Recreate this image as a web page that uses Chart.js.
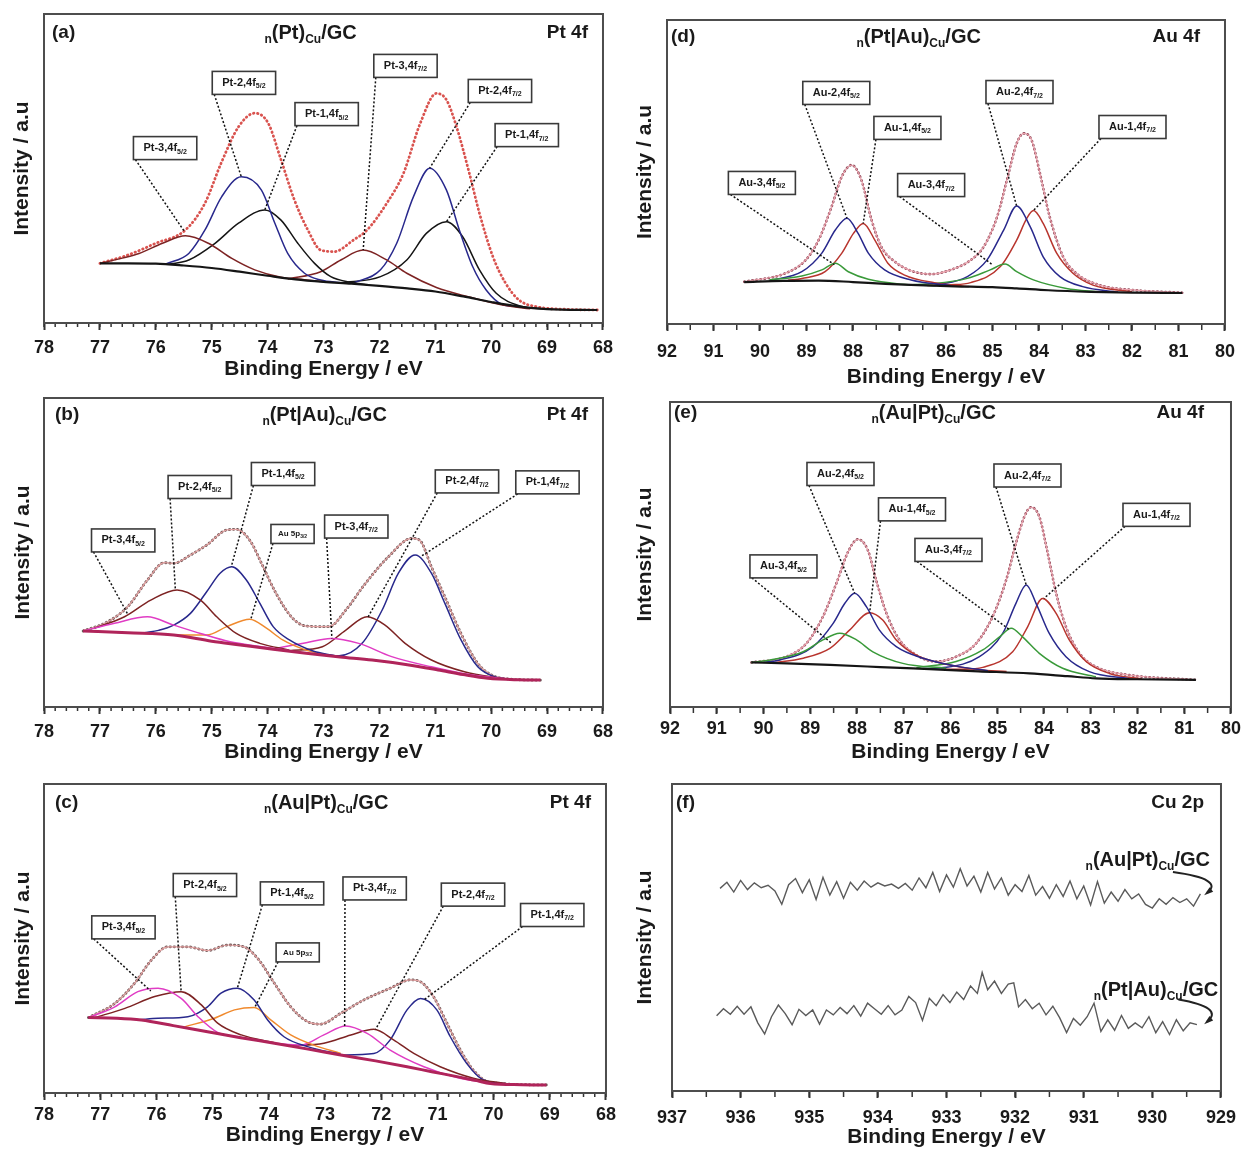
<!DOCTYPE html>
<html>
<head>
<meta charset="utf-8">
<script src="https://cdn.jsdelivr.net/npm/chart.js@4.4.1/dist/chart.umd.min.js"></script>
<style>
  body { margin: 0; background: #fff; }
  #wrap { position: relative; width: 1246px; height: 1155px; overflow: hidden; }
  canvas { position: absolute; }
</style>
</head>
<body>
<div id="wrap">
  <canvas id="pa" width="620" height="385" style="left:0;top:0"></canvas>
  <canvas id="pd" width="620" height="390" style="left:625px;top:0"></canvas>
  <canvas id="pb" width="620" height="385" style="left:0;top:385px"></canvas>
  <canvas id="pe" width="620" height="385" style="left:625px;top:385px"></canvas>
  <canvas id="pc" width="620" height="385" style="left:0;top:770px"></canvas>
  <canvas id="pf" width="620" height="385" style="left:625px;top:770px"></canvas>
</div>
<script>
// ---- data: [binding energy (eV), intensity (a.u.)] ----

// (a) n(Pt)Cu/GC, Pt 4f
const aBackground = [[77.0,19.3],[76.5,19.3],[76.0,19.2],[75.5,18.6],[75.0,17.8],[74.5,16.6],[74.0,15.3],[73.5,14.1],[73.0,13.3],[72.5,12.7],[72.0,12.0],[71.5,11.2],[71.0,10.2],[70.5,8.6],[70.0,6.8],[69.5,5.3],[69.0,4.5],[68.1,4.2]];
const aEnvelope = [[77.0,19.3],[76.5,22.0],[76.0,25.8],[75.47,30.1],[75.12,38.8],[74.83,51.8],[74.52,63.5],[74.23,67.9],[73.99,64.7],[73.76,52.8],[73.52,39.8],[73.28,30.1],[73.05,23.6],[72.81,23.1],[72.46,26.9],[72.22,30.1],[71.87,38.7],[71.57,48.4],[71.27,64.6],[70.98,74.3],[70.8,72.2],[70.62,63.5],[70.39,48.4],[70.21,35.5],[69.97,21.5],[69.74,12.8],[69.5,7.4],[69.2,5.3],[68.6,4.4],[68.1,4.2]];
const aPt3_52 = [[77.0,19.3],[76.6,21.0],[76.3,22.5],[75.88,25.8],[75.47,28.2],[75.06,25.8],[74.64,20.9],[74.23,17.2],[73.76,14.8],[73.34,14.0],[72.9,13.2]];
const aPt2_52 = [[75.82,19.1],[75.41,22.5],[75.12,30.1],[74.82,40.9],[74.47,47.3],[74.11,43.0],[73.87,32.3],[73.64,22.5],[73.34,16.1],[73.05,13.9],[72.69,13.0]];
const aPt1_52 = [[75.77,19.0],[75.41,20.4],[74.94,25.8],[74.52,32.3],[74.05,36.6],[73.76,33.3],[73.46,25.8],[73.16,19.3],[72.87,15.0],[72.52,13.2],[72.2,12.4]];
const aPt3_72 = [[73.64,14.2],[73.05,16.6],[72.69,20.4],[72.29,23.6],[71.87,20.4],[71.51,16.1],[70.98,11.5],[70.39,8.4],[69.8,5.8],[69.3,4.6]];
const aPt2_72 = [[72.46,13.0],[71.98,17.2],[71.69,25.8],[71.39,40.9],[71.1,50.1],[70.8,43.0],[70.57,30.1],[70.33,18.2],[70.09,10.7],[69.8,6.0],[69.5,5.3]];
const aPt1_72 = [[72.69,13.0],[71.98,15.0],[71.51,20.4],[71.16,29.0],[70.8,32.8],[70.51,27.9],[70.21,17.2],[69.91,9.6],[69.5,5.6],[68.91,4.4]];

// (b) n(Pt|Au)Cu/GC, Pt 4f
const bBackground = [[77.3,24.6],[76.5,24.0],[75.68,23.3],[75.0,21.3],[74.49,20.1],[73.9,18.7],[73.31,17.4],[72.7,16.2],[72.13,15.2],[71.5,13.7],[70.95,12.0],[70.5,10.5],[70.06,9.3],[69.5,8.8],[69.12,8.7]];
const bEnvelope = [[77.3,24.6],[76.86,27.6],[76.5,32.5],[76.15,41.1],[75.85,46.7],[75.68,46.5],[75.38,49.2],[75.09,52.4],[74.73,57.3],[74.56,57.5],[74.32,54.0],[74.08,45.4],[73.85,36.8],[73.55,28.7],[73.31,26.2],[72.9,26.0],[72.6,31.4],[72.25,40.0],[71.84,48.6],[71.42,54.6],[71.28,54.0],[71.07,45.4],[70.83,35.7],[70.54,23.8],[70.24,14.1],[70.0,10.4],[69.65,9.0],[69.12,8.7]];
const bPt3_52 = [[77.3,24.6],[76.74,27.1],[76.15,29.2],[75.68,26.5],[75.2,23.8],[74.67,21.1],[74.14,19.6],[73.6,18.2]];
const bPt2_52 = [[77.1,25.5],[76.56,29.2],[76.09,34.6],[75.62,37.9],[75.2,34.6],[74.91,29.2],[74.56,23.8],[74.14,20.6],[73.61,18.4]];
const bPt1_52 = [[76.2,24.0],[75.95,24.8],[75.68,26.5],[75.38,30.3],[75.09,37.3],[74.85,43.3],[74.64,45.4],[74.38,41.1],[74.14,33.6],[73.9,26.0],[73.61,21.7],[73.2,18.2],[72.78,16.5]];
const bAu5p = [[75.68,23.3],[75.09,23.3],[74.73,26.0],[74.32,28.4],[74.02,25.5],[73.73,21.7],[73.31,18.4],[72.84,16.5]];
const bPt3_72 = [[73.9,18.8],[73.31,20.8],[72.87,22.2],[72.37,20.6],[71.78,16.3],[71.07,13.0],[70.36,10.4],[69.65,9.0]];
const bPt2_72 = [[73.61,18.2],[73.02,19.5],[72.6,24.9],[72.22,29.2],[71.9,26.5],[71.54,20.6],[71.07,15.2],[70.48,11.4],[69.77,9.1]];
const bPt1_72 = [[73.2,17.3],[72.72,16.6],[72.31,20.6],[71.95,31.4],[71.66,43.3],[71.36,49.2],[71.07,43.3],[70.83,33.6],[70.54,21.7],[70.24,13.0],[69.94,9.8],[69.6,8.9]];

// (c) n(Au|Pt)Cu/GC, Pt 4f
const cBackground = [[77.21,24.4],[76.7,24.2],[76.27,23.6],[75.7,21.8],[75.09,19.8],[74.5,17.9],[73.9,16.1],[73.3,14.2],[72.72,12.3],[72.1,10.4],[71.54,8.5],[71.1,6.9],[70.65,5.3],[70.3,4.0],[70.06,3.1],[69.5,2.7],[69.06,2.6]];
const cEnvelope = [[77.21,24.4],[76.74,29.0],[76.39,35.5],[76.09,43.0],[75.8,47.3],[75.44,47.3],[75.09,46.1],[74.73,47.9],[74.44,47.3],[74.2,43.6],[73.9,35.5],[73.61,27.9],[73.31,23.1],[73.08,22.3],[72.72,25.8],[72.31,30.1],[71.84,33.9],[71.48,36.6],[71.3,36.0],[71.07,31.2],[70.83,22.6],[70.59,13.9],[70.36,7.4],[70.06,3.4],[69.06,2.6]];
const cPt3_52 = [[77.21,24.4],[76.74,27.9],[76.33,32.8],[75.97,33.9],[75.56,30.6],[75.26,24.7],[74.91,19.6],[74.49,18.0],[73.9,16.1]];
const cPt2_52 = [[77.1,24.4],[76.56,27.4],[76.03,31.2],[75.56,32.8],[75.2,28.5],[74.91,22.6],[74.49,18.8],[73.9,16.3]];
const cPt1_52 = [[76.3,23.7],[75.97,24.2],[75.44,24.7],[75.09,27.9],[74.85,32.3],[74.56,33.9],[74.26,30.1],[74.02,23.6],[73.73,18.2],[73.31,15.0],[72.72,12.5]];
const cAu5p = [[75.5,21.4],[74.97,24.2],[74.61,26.9],[74.26,27.7],[73.96,23.6],[73.61,18.8],[73.2,15.5],[72.72,12.8]];
const cPt3_72 = [[73.9,16.1],[73.43,15.5],[73.02,18.8],[72.63,21.7],[72.25,19.3],[71.84,13.9],[71.24,8.5],[70.65,5.0],[70.06,3.2]];
const cPt2_72 = [[73.61,15.3],[73.02,16.1],[72.54,18.8],[72.13,20.6],[71.78,17.2],[71.42,12.8],[70.95,8.5],[70.36,4.8],[69.77,3.0]];
const cPt1_72 = [[72.72,12.3],[72.13,12.8],[71.84,17.2],[71.54,26.9],[71.3,30.6],[71.01,26.9],[70.77,18.2],[70.48,9.6],[70.18,4.2],[69.77,3.0]];

// (d) n(Pt|Au)Cu/GC, Au 4f
const dBackground = [[90.34,13.8],[89.5,14.2],[88.74,14.3],[88.0,13.8],[87.3,13.2],[86.6,12.8],[85.8,12.4],[85.0,12.1],[84.48,11.7],[83.8,11.1],[82.89,10.6],[82.0,10.3],[80.92,10.2]];
const dEnvelope = [[90.34,13.9],[89.45,16.7],[89.02,21.0],[88.74,27.6],[88.46,38.6],[88.24,48.5],[88.03,52.3],[87.82,47.4],[87.6,34.2],[87.39,25.4],[87.1,20.5],[86.75,17.5],[86.32,16.4],[85.9,17.8],[85.47,21.0],[85.19,25.4],[84.9,35.3],[84.69,47.4],[84.48,59.4],[84.33,62.7],[84.16,60.5],[83.98,49.6],[83.77,35.3],[83.48,22.1],[83.2,16.7],[82.7,12.8],[81.99,11.2],[80.92,10.3]];
const dAu3_52 = [[89.8,14.5],[89.1,15.8],[88.67,17.8],[88.38,20.0],[88.1,17.2],[87.67,14.7],[86.96,13.1],[86.25,12.6]];
const dAu2_52 = [[89.8,14.3],[89.1,17.2],[88.67,23.3],[88.38,30.9],[88.13,34.8],[87.89,29.8],[87.67,23.3],[87.32,17.8],[86.75,14.5],[85.9,12.6]];
const dAu1_52 = [[89.4,14.4],[89.1,15.0],[88.6,17.2],[88.24,23.3],[87.99,29.8],[87.78,33.1],[87.53,27.6],[87.25,20.0],[86.89,16.1],[86.25,13.6],[85.5,12.3]];
const dAu3_72 = [[86.8,12.9],[86.25,13.3],[85.54,15.0],[85.05,17.8],[84.73,19.7],[84.48,17.2],[84.12,14.5],[83.41,11.7],[82.7,10.5]];
const dAu2_72 = [[86.25,12.6],[85.54,15.6],[85.12,21.0],[84.76,30.9],[84.48,38.8],[84.19,32.0],[83.91,22.1],[83.55,15.6],[83.06,12.3],[82.3,10.5]];
const dAu1_72 = [[86.4,12.7],[85.9,12.9],[85.47,13.6],[84.83,18.9],[84.48,27.6],[84.26,34.8],[84.12,37.3],[83.91,33.1],[83.62,23.3],[83.27,16.7],[82.84,12.8],[82.0,10.6]];

// (e) n(Au|Pt)Cu/GC, Au 4f
const eBackground = [[90.26,14.6],[89.5,14.3],[88.58,13.8],[87.5,13.1],[86.45,12.4],[85.4,11.7],[84.31,11.0],[83.5,10.1],[82.89,9.4],[82.0,9.1],[80.75,8.9]];
const eEnvelope = [[90.26,14.6],[89.51,16.5],[89.08,20.9],[88.73,29.6],[88.44,40.6],[88.19,50.9],[87.98,55.0],[87.77,51.5],[87.59,41.6],[87.37,30.7],[87.09,22.0],[86.73,17.0],[86.31,14.9],[85.88,16.5],[85.45,20.9],[85.1,29.6],[84.81,41.6],[84.6,53.7],[84.42,62.4],[84.28,65.5],[84.1,62.4],[83.92,50.4],[83.74,37.3],[83.53,26.3],[83.24,17.6],[82.89,13.2],[82.18,10.5],[80.75,8.9]];
const eAu3_52 = [[90.26,14.6],[89.86,15.4],[89.15,18.1],[88.73,22.0],[88.37,24.2],[88.01,22.0],[87.66,18.1],[87.02,14.3],[86.09,12.7]];
const eAu2_52 = [[90.0,14.6],[89.65,15.4],[88.94,19.8],[88.51,27.4],[88.26,34.0],[88.05,37.3],[87.8,32.9],[87.52,25.2],[87.16,19.8],[86.59,16.0],[85.88,13.4],[85.2,11.9]];
const eAu1_52 = [[89.8,14.5],[89.15,16.0],[88.58,19.2],[88.16,25.2],[87.73,30.9],[87.45,28.5],[87.16,22.0],[86.73,17.0],[86.09,14.0],[85.4,12.2],[84.8,11.6]];
const eAu3_72 = [[86.73,12.9],[85.88,14.9],[85.31,18.7],[84.95,23.0],[84.7,25.8],[84.46,23.0],[84.1,17.6],[83.6,12.7],[82.89,9.9]];
const eAu2_72 = [[86.6,12.6],[86.09,13.0],[85.38,16.5],[84.88,24.2],[84.6,34.0],[84.38,40.0],[84.17,34.0],[83.89,24.2],[83.53,16.5],[83.03,11.6],[82.18,9.3]];
const eAu1_72 = [[86.2,12.4],[85.7,12.4],[85.31,13.0],[84.67,18.1],[84.35,26.3],[84.03,35.6],[83.74,30.7],[83.46,22.0],[83.1,14.9],[82.6,11.0],[81.9,9.2]];

// (f) Cu 2p survey traces
const fAuPt = [[936.3,66.0],[936.2,68.0],[936.1,64.8],[936.0,68.6],[935.9,65.6],[935.8,67.8],[935.7,66.2],[935.6,67.0],[935.5,65.2],[935.4,60.8],[935.3,67.2],[935.2,69.2],[935.1,64.6],[935.0,68.8],[934.9,62.4],[934.8,69.6],[934.7,63.8],[934.6,68.2],[934.5,62.8],[934.4,68.0],[934.3,65.4],[934.2,68.4],[934.1,66.4],[934.0,67.8],[933.9,66.8],[933.8,67.4],[933.7,66.0],[933.6,67.6],[933.5,65.4],[933.4,69.4],[933.3,66.2],[933.2,71.2],[933.1,65.0],[933.0,70.4],[932.9,66.4],[932.8,72.4],[932.7,66.8],[932.6,70.0],[932.5,64.8],[932.4,71.2],[932.3,65.8],[932.2,69.4],[932.1,63.8],[932.0,67.2],[931.9,65.0],[931.8,70.2],[931.7,63.8],[931.6,66.6],[931.5,62.8],[931.4,67.2],[931.3,63.4],[931.2,68.4],[931.1,62.6],[931.0,66.8],[930.9,60.6],[930.8,68.2],[930.7,61.2],[930.6,64.8],[930.5,61.8],[930.4,65.6],[930.3,62.6],[930.2,64.2],[930.1,60.8],[930.0,59.6],[929.9,62.6],[929.8,60.8],[929.7,63.0],[929.6,61.4],[929.5,62.6],[929.4,60.2],[929.3,64.2]];
const fPtAu = [[936.35,24.5],[936.25,26.8],[936.15,25.0],[936.05,27.6],[935.95,25.0],[935.85,27.4],[935.75,22.2],[935.65,18.6],[935.55,24.2],[935.45,28.0],[935.35,25.2],[935.25,21.6],[935.15,26.6],[935.05,24.6],[934.95,26.4],[934.85,21.8],[934.75,26.4],[934.65,24.8],[934.55,27.2],[934.45,25.2],[934.35,27.8],[934.25,24.4],[934.15,28.6],[934.05,26.8],[933.95,25.0],[933.85,27.8],[933.75,24.8],[933.65,26.4],[933.55,30.8],[933.45,28.8],[933.35,23.0],[933.25,30.2],[933.15,27.8],[933.05,31.4],[932.95,28.8],[932.85,32.2],[932.75,29.8],[932.65,34.2],[932.55,31.8],[932.48,38.6],[932.4,33.0],[932.3,35.8],[932.2,31.8],[932.1,34.8],[932.02,35.2],[931.95,27.4],[931.85,29.8],[931.75,26.8],[931.65,28.6],[931.55,24.8],[931.45,27.6],[931.35,23.8],[931.25,19.0],[931.15,23.6],[931.05,21.4],[930.95,24.2],[930.85,28.6],[930.75,19.4],[930.65,23.2],[930.55,19.8],[930.45,24.6],[930.35,20.4],[930.25,22.2],[930.15,20.6],[930.05,24.2],[929.95,19.0],[929.85,22.6],[929.75,18.4],[929.65,23.2],[929.55,19.6],[929.45,22.2],[929.35,21.6]];

// ---- annotation boxes: label, box anchor (left edge, middle) and pointer target, in data units ----
function lbl(main, sub) { return [[main, ''], [sub, 'sub']]; }
const aNotes = [
  { label: lbl('Pt-3,4f', '5/2'), bx: 76.40, by: 56.6, tx: 75.48, ty: 29.4 },
  { label: lbl('Pt-2,4f', '5/2'), bx: 74.99, by: 77.7, tx: 74.47, ty: 47.3 },
  { label: lbl('Pt-1,4f', '5/2'), bx: 73.51, by: 67.6, tx: 74.05, ty: 36.6 },
  { label: lbl('Pt-3,4f', '7/2'), bx: 72.10, by: 83.2, tx: 72.29, ty: 23.6 },
  { label: lbl('Pt-2,4f', '7/2'), bx: 70.41, by: 75.1, tx: 71.10, ty: 50.1 },
  { label: lbl('Pt-1,4f', '7/2'), bx: 69.93, by: 60.8, tx: 70.80, ty: 32.8 }
];
const bNotes = [
  { label: lbl('Pt-3,4f', '5/2'), bx: 77.15, by: 53.9, tx: 76.50, ty: 30.0 },
  { label: lbl('Pt-2,4f', '5/2'), bx: 75.78, by: 71.2, tx: 75.65, ty: 37.9 },
  { label: lbl('Pt-1,4f', '5/2'), bx: 74.29, by: 75.4, tx: 74.65, ty: 45.4 },
  { label: lbl('Au 5p', '3/2'), bx: 73.94, by: 56.0, tx: 74.30, ty: 28.4, small: true },
  { label: lbl('Pt-3,4f', '7/2'), bx: 72.98, by: 58.4, tx: 72.85, ty: 22.2 },
  { label: lbl('Pt-2,4f', '7/2'), bx: 71.00, by: 73.0, tx: 72.20, ty: 29.2 },
  { label: lbl('Pt-1,4f', '7/2'), bx: 69.56, by: 72.7, tx: 71.25, ty: 48.8 }
];
const cNotes = [
  { label: lbl('Pt-3,4f', '5/2'), bx: 77.15, by: 53.6, tx: 76.10, ty: 33.0 },
  { label: lbl('Pt-2,4f', '5/2'), bx: 75.70, by: 67.3, tx: 75.56, ty: 32.8 },
  { label: lbl('Pt-1,4f', '5/2'), bx: 74.15, by: 64.6, tx: 74.56, ty: 33.9 },
  { label: lbl('Au 5p', '3/2'), bx: 73.87, by: 45.5, tx: 74.25, ty: 27.7, small: true },
  { label: lbl('Pt-3,4f', '7/2'), bx: 72.68, by: 66.2, tx: 72.65, ty: 21.7 },
  { label: lbl('Pt-2,4f', '7/2'), bx: 70.93, by: 64.2, tx: 72.10, ty: 20.6 },
  { label: lbl('Pt-1,4f', '7/2'), bx: 69.52, by: 57.6, tx: 71.25, ty: 30.0 }
];
const dNotes = [
  { label: lbl('Au-2,4f', '5/2'), bx: 89.08, by: 76.0, tx: 88.13, ty: 34.8 },
  { label: lbl('Au-1,4f', '5/2'), bx: 87.55, by: 64.5, tx: 87.78, ty: 33.1 },
  { label: lbl('Au-3,4f', '5/2'), bx: 90.68, by: 46.4, tx: 88.40, ty: 19.5 },
  { label: lbl('Au-3,4f', '7/2'), bx: 87.04, by: 45.7, tx: 85.00, ty: 19.5 },
  { label: lbl('Au-2,4f', '7/2'), bx: 85.14, by: 76.3, tx: 84.48, ty: 38.8 },
  { label: lbl('Au-1,4f', '7/2'), bx: 82.71, by: 64.8, tx: 84.12, ty: 37.3 }
];
const eNotes = [
  { label: lbl('Au-2,4f', '5/2'), bx: 89.07, by: 76.4, tx: 88.05, ty: 37.3 },
  { label: lbl('Au-1,4f', '5/2'), bx: 87.54, by: 64.8, tx: 87.73, ty: 30.9 },
  { label: lbl('Au-3,4f', '5/2'), bx: 90.29, by: 46.1, tx: 88.55, ty: 21.0 },
  { label: lbl('Au-3,4f', '7/2'), bx: 86.76, by: 51.5, tx: 84.75, ty: 25.5 },
  { label: lbl('Au-2,4f', '7/2'), bx: 85.07, by: 75.9, tx: 84.38, ty: 40.0 },
  { label: lbl('Au-1,4f', '7/2'), bx: 82.31, by: 63.0, tx: 84.00, ty: 35.6 }
];
const fTags = [
  { parts: [['n', 'sub'], ['(Au|Pt)', ''], ['Cu', 'sub'], ['/GC', '']], x: 929.16, y: 75.2 },
  { parts: [['n', 'sub'], ['(Pt|Au)', ''], ['Cu', 'sub'], ['/GC', '']], x: 929.04, y: 32.9 }
];
const fArrows = [
  { from: [929.70, 71.3], via: [928.95, 69.0], to: [929.20, 64.6] },
  { from: [929.62, 29.8], via: [928.95, 27.2], to: [929.20, 22.6] }
];

// ---- drawing helpers ----
const FONT = '"Liberation Sans", Arial, sans-serif';

function richWidth(ctx, parts, size) {
  const sub = Math.round(size * 0.6);
  let w = 0;
  parts.forEach(([t, k]) => { ctx.font = 'bold ' + (k ? sub : size) + 'px ' + FONT; w += ctx.measureText(t).width; });
  return w;
}
function drawRich(ctx, parts, x, y, size, align) {
  const sub = Math.round(size * 0.6);
  const total = richWidth(ctx, parts, size);
  let cx = align === 'center' ? x - total / 2 : align === 'right' ? x - total : x;
  ctx.textAlign = 'left';
  ctx.textBaseline = 'middle';
  parts.forEach(([t, k]) => {
    ctx.font = 'bold ' + (k ? sub : size) + 'px ' + FONT;
    ctx.fillText(t, cx, k ? y + size * 0.32 : y);
    cx += ctx.measureText(t).width;
  });
}

const panelDecor = {
  id: 'panelDecor',
  afterDatasetsDraw(chart, args, p) {
    const { ctx, chartArea: ca, scales: { x, y } } = chart;
    ctx.save();
    ctx.fillStyle = '#1a1a1a';

    // minor ticks under the axis
    ctx.strokeStyle = '#333';
    ctx.lineWidth = 1.5;
    for (let v = p.xMin; v <= p.xMax + 1e-9; v += p.minor) {
      const px = x.getPixelForValue(v);
      ctx.beginPath(); ctx.moveTo(px, ca.bottom); ctx.lineTo(px, ca.bottom + p.minorLen); ctx.stroke();
    }

    // pointer lines and label boxes
    (p.notes || []).forEach(n => {
      const sz = n.small ? 8 : 11;
      const pad = n.small ? 7 : 10;
      const h = n.small ? 19 : 23;
      const w = richWidth(ctx, n.label, sz) + pad * 2;
      const left = x.getPixelForValue(n.bx);
      const mid = y.getPixelForValue(n.by);
      ctx.setLineDash([2, 2]);
      ctx.lineWidth = 1.5;
      ctx.strokeStyle = '#111';
      ctx.beginPath();
      ctx.moveTo(left + 2, mid + h / 2);
      ctx.lineTo(x.getPixelForValue(n.tx), y.getPixelForValue(n.ty));
      ctx.stroke();
      ctx.setLineDash([]);
      ctx.fillStyle = '#fff';
      ctx.fillRect(left, mid - h / 2, w, h);
      ctx.strokeStyle = '#3a3a3a';
      ctx.lineWidth = 1.6;
      ctx.strokeRect(left, mid - h / 2, w, h);
      ctx.fillStyle = '#1a1a1a';
      drawRich(ctx, n.label, left + pad, mid, sz, 'left');
    });

    // sample tags and curved arrows (panel f)
    (p.tags || []).forEach(t => drawRich(ctx, t.parts, x.getPixelForValue(t.x), y.getPixelForValue(t.y), 20, 'right'));
    (p.arrows || []).forEach(a => {
      const [x0, y0] = [x.getPixelForValue(a.from[0]), y.getPixelForValue(a.from[1])];
      const [x1, y1] = [x.getPixelForValue(a.via[0]), y.getPixelForValue(a.via[1])];
      const [x2, y2] = [x.getPixelForValue(a.to[0]), y.getPixelForValue(a.to[1])];
      ctx.strokeStyle = '#222';
      ctx.lineWidth = 2;
      ctx.beginPath(); ctx.moveTo(x0, y0); ctx.quadraticCurveTo(x1, y1, x2, y2); ctx.stroke();
      const ang = Math.atan2(y2 - y1, x2 - x1);
      ctx.fillStyle = '#222';
      ctx.beginPath();
      ctx.moveTo(x2 + 4 * Math.cos(ang), y2 + 4 * Math.sin(ang));
      ctx.lineTo(x2 - 6 * Math.cos(ang - 0.5), y2 - 6 * Math.sin(ang - 0.5));
      ctx.lineTo(x2 - 6 * Math.cos(ang + 0.5), y2 - 6 * Math.sin(ang + 0.5));
      ctx.closePath(); ctx.fill();
    });

    // frame
    ctx.strokeStyle = '#4d4d4d';
    ctx.lineWidth = 2;
    ctx.strokeRect(ca.left, ca.top, ca.width, ca.height);

    // corner texts
    ctx.fillStyle = '#1a1a1a';
    ctx.font = 'bold 19px ' + FONT;
    ctx.textBaseline = 'middle';
    ctx.textAlign = 'left';
    ctx.fillText(p.letter, ca.left + p.letterDx, ca.top + p.textDy);
    ctx.textAlign = 'right';
    ctx.fillText(p.region, ca.right + p.regionDx, ca.top + p.textDy);
    if (p.title) drawRich(ctx, p.title, ca.left + ca.width * p.titleFrac, ca.top + p.textDy, 20, 'center');
    ctx.restore();
  }
};
Chart.register(panelDecor);

function pts(arr) { return arr.map(([x, y]) => ({ x, y })); }
function curve(arr, color, width, extra) {
  return Object.assign({
    data: pts(arr), borderColor: color, borderWidth: width, showLine: true,
    pointRadius: 0, cubicInterpolationMode: 'monotone', fill: false
  }, extra || {});
}
const dots = { borderDash: [0.5, 3.6], borderCapStyle: 'round' };

function makePanel(id, p, datasets) {
  new Chart(document.getElementById(id), {
    type: 'scatter',
    data: { datasets },
    options: {
      responsive: false,
      animation: false,
      devicePixelRatio: 1,
      layout: { padding: { left: 0, top: p.padTop, right: p.padRight, bottom: 0 } },
      plugins: { legend: { display: false }, tooltip: { enabled: false }, panelDecor: p },
      scales: {
        x: {
          type: 'linear', reverse: true, min: p.xMin, max: p.xMax,
          afterFit: s => { s.height = p.xH; },
          border: { display: false },
          grid: { drawOnChartArea: false, tickLength: 7, tickWidth: 2, tickColor: '#333' },
          ticks: { stepSize: 1, padding: p.tickPad, autoSkip: false, maxRotation: 0, color: '#1a1a1a',
                   font: { family: FONT, size: 18, weight: 'bold' } },
          title: { display: true, text: 'Binding Energy / eV', color: '#1a1a1a',
                   font: { family: FONT, size: 21, weight: 'bold' }, padding: { top: 0, bottom: p.titlePad } }
        },
        y: {
          min: 0, max: 100,
          afterFit: s => { s.width = p.yW; },
          border: { display: false },
          grid: { display: false },
          ticks: { display: false },
          title: { display: true, text: 'Intensity / a.u', color: '#1a1a1a',
                   font: { family: FONT, size: 21, weight: 'bold' }, padding: { top: p.yTitlePad, bottom: 0 } }
        }
      }
    }
  });
}

const BLUE = '#28288c', BROWN = '#7d2323', BLACK = '#151515', MAG = '#e03cc4',
      ORANGE = '#f08a2e', GREEN = '#3a9a3a', RED = '#b8352e', CRIMSON = '#b0245a';

makePanel('pa', {
  xMin: 68, xMax: 78, minor: 0.2, minorLen: 4,
  yW: 44, padTop: 14, padRight: 12, xH: 62, tickPad: 7, titlePad: 3, yTitlePad: 10,
  letter: '(a)', letterDx: 8, region: 'Pt 4f', regionDx: -15, textDy: 19, titleFrac: 0.477,
  title: [['n', 'sub'], ['(Pt)', ''], ['Cu', 'sub'], ['/GC', '']],
  notes: aNotes
}, [
  curve(aBackground, BLACK, 2.2),
  curve(aPt3_52, BROWN, 1.5), curve(aPt2_52, BLUE, 1.5), curve(aPt1_52, BLACK, 1.5),
  curve(aPt3_72, BROWN, 1.5), curve(aPt2_72, BLUE, 1.5), curve(aPt1_72, BLACK, 1.5),
  curve(aEnvelope, '#d9534f', 2.8, dots)
]);

makePanel('pb', {
  xMin: 68, xMax: 78, minor: 0.2, minorLen: 4,
  yW: 44, padTop: 13, padRight: 12, xH: 63, tickPad: 7, titlePad: 5, yTitlePad: 11,
  letter: '(b)', letterDx: 11, region: 'Pt 4f', regionDx: -15, textDy: 17, titleFrac: 0.502,
  title: [['n', 'sub'], ['(Pt|Au)', ''], ['Cu', 'sub'], ['/GC', '']],
  notes: bNotes
}, [
  curve(bBackground, CRIMSON, 3), curve(bBackground, BLACK, 1.2),
  curve(bPt3_52, MAG, 1.5), curve(bPt2_52, BROWN, 1.5), curve(bPt1_52, BLUE, 1.5), curve(bAu5p, ORANGE, 1.5),
  curve(bPt3_72, MAG, 1.5), curve(bPt2_72, BROWN, 1.5), curve(bPt1_72, BLUE, 1.5),
  curve(bEnvelope, '#e3a0a0', 1.2), curve(bEnvelope, '#6e5858', 2.8, dots)
]);

makePanel('pc', {
  xMin: 68, xMax: 78, minor: 0.2, minorLen: 4,
  yW: 44, padTop: 14, padRight: 12, xH: 62, tickPad: 4, titlePad: 7, yTitlePad: 11,
  letter: '(c)', letterDx: 11, region: 'Pt 4f', regionDx: -15, textDy: 19, titleFrac: 0.502,
  title: [['n', 'sub'], ['(Au|Pt)', ''], ['Cu', 'sub'], ['/GC', '']],
  notes: cNotes
}, [
  curve(cBackground, CRIMSON, 3), curve(cBackground, BLACK, 1.2),
  curve(cPt3_52, MAG, 1.5), curve(cPt2_52, BROWN, 1.5), curve(cPt1_52, BLUE, 1.5), curve(cAu5p, ORANGE, 1.5),
  curve(cPt3_72, MAG, 1.5), curve(cPt2_72, BROWN, 1.5), curve(cPt1_72, BLUE, 1.5),
  curve(cEnvelope, '#e3a0a0', 1.2), curve(cEnvelope, '#6e5858', 2.8, dots)
]);

makePanel('pd', {
  xMin: 80, xMax: 92, minor: 0.5, minorLen: 6,
  yW: 42, padTop: 20, padRight: 15, xH: 66, tickPad: 10, titlePad: 0, yTitlePad: 8,
  letter: '(d)', letterDx: 4, region: 'Au 4f', regionDx: -25, textDy: 17, titleFrac: 0.451,
  title: [['n', 'sub'], ['(Pt|Au)', ''], ['Cu', 'sub'], ['/GC', '']],
  notes: dNotes
}, [
  curve(dBackground, BLACK, 2.2),
  curve(dAu3_52, GREEN, 1.5), curve(dAu2_52, BLUE, 1.5), curve(dAu1_52, RED, 1.5),
  curve(dAu3_72, GREEN, 1.5), curve(dAu2_72, BLUE, 1.5), curve(dAu1_72, RED, 1.5),
  curve(dEnvelope, '#eca2ad', 1.2), curve(dEnvelope, '#8a4656', 2.6, dots)
]);

makePanel('pe', {
  xMin: 80, xMax: 92, minor: 0.5, minorLen: 6,
  yW: 45, padTop: 17, padRight: 13, xH: 63, tickPad: 4, titlePad: 5, yTitlePad: 8,
  letter: '(e)', letterDx: 4, region: 'Au 4f', regionDx: -27, textDy: 11, titleFrac: 0.47,
  title: [['n', 'sub'], ['(Au|Pt)', ''], ['Cu', 'sub'], ['/GC', '']],
  notes: eNotes
}, [
  curve(eBackground, BLACK, 2.2),
  curve(eAu3_52, GREEN, 1.5), curve(eAu2_52, BLUE, 1.5), curve(eAu1_52, RED, 1.5),
  curve(eAu3_72, GREEN, 1.5), curve(eAu2_72, BLUE, 1.5), curve(eAu1_72, RED, 1.5),
  curve(eEnvelope, '#eca2ad', 1.2), curve(eEnvelope, '#8a4656', 2.6, dots)
]);

makePanel('pf', {
  xMin: 929, xMax: 937, minor: 0.5, minorLen: 6,
  yW: 47, padTop: 14, padRight: 23, xH: 64, tickPad: 9, titlePad: 5, yTitlePad: 8,
  letter: '(f)', letterDx: 4, region: 'Cu 2p', regionDx: -17, textDy: 19,
  tags: fTags, arrows: fArrows
}, [
  curve(fAuPt, '#5a5a5a', 1.4, { cubicInterpolationMode: 'default', tension: 0 }),
  curve(fPtAu, '#5a5a5a', 1.4, { cubicInterpolationMode: 'default', tension: 0 })
]);
</script>
</body>
</html>
